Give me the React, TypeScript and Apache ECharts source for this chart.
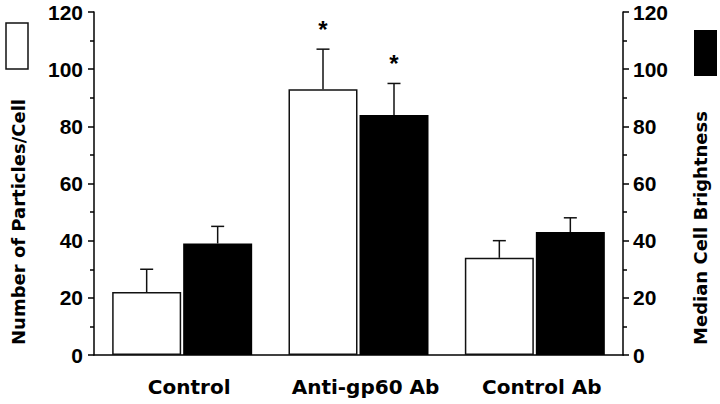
import React, { useEffect, useRef } from "react";
import * as echarts from "echarts";

const categories = ["Control", "Anti-gp60 Ab", "Control Ab"];
const particles = [22, 93, 34];
const particlesErrTop = [30, 107, 40];
const particlesStar = [false, true, false];
const brightness = [39, 84, 43];
const brightnessErrTop = [45, 95, 48];
const brightnessStar = [false, true, false];
const yMin = 0;
const yMax = 120;
const yInterval = 20;

const LABEL_FONT = "'Liberation Sans', Arial, sans-serif";
const WIDE_FONT = "'DejaVu Sans', sans-serif";

const BAR_W = 69;
const BAR_GAP_PX = 2;
const OFFSET = BAR_W / 2 + BAR_GAP_PX / 2;

function makeErrorRender(side: number) {
  return (params: any, api: any) => {
    const i = api.value(0);
    const base = api.coord([i, api.value(1)]);
    const top = api.coord([i, api.value(2)]);
    const star = api.value(3);
    const x = base[0] + side * OFFSET;
    const children: any[] = [
      {
        type: "line",
        shape: { x1: x, y1: base[1], x2: x, y2: top[1] },
        style: { stroke: "#111", lineWidth: 1.5 },
      },
      {
        type: "line",
        shape: { x1: x - 6.5, y1: top[1], x2: x + 6.5, y2: top[1] },
        style: { stroke: "#111", lineWidth: 1.5 },
      },
    ];
    if (star) {
      children.push({
        type: "text",
        x: x,
        y: top[1] - 20,
        style: {
          text: "*",
          font: "bold 24px " + LABEL_FONT,
          fill: "#000",
          align: "center",
          verticalAlign: "middle",
        },
      });
    }
    return { type: "group", children };
  };
}

const yAxisCommon = (position: "left" | "right") => ({
  type: "value",
  position,
  min: yMin,
  max: yMax,
  interval: yInterval,
  axisLine: { show: true, lineStyle: { color: "#000", width: 1.5 } },
  axisTick: { show: true, inside: false, length: 6, lineStyle: { color: "#000", width: 1.5 } },
  minorTick: { show: true, splitNumber: 2, length: 4, lineStyle: { color: "#000", width: 1.5 } },
  splitLine: { show: false },
  axisLabel: {
    margin: position === "left" ? 11 : 10,
    color: "#000",
    fontFamily: LABEL_FONT,
    fontWeight: 900,
    fontSize: 21,
  },
});

export default function App() {
  const ref = useRef<HTMLDivElement>(null);
  useEffect(() => {
    if (!ref.current) return;
    const chart = echarts.init(ref.current, undefined, { renderer: "svg" });
    chart.setOption({
      animation: false,
      backgroundColor: "#fff",
      grid: { left: 94, right: 97, top: 12, bottom: 49, containLabel: false },
      xAxis: {
        type: "category",
        data: categories,
        axisLine: { show: true, lineStyle: { color: "#000", width: 1.5 } },
        axisTick: { show: false },
        axisLabel: {
          interval: 0,
          hideOverlap: false,
          margin: 22,
          color: "#000",
          fontFamily: WIDE_FONT,
          fontWeight: "bold",
          fontSize: 20,
          padding: [0, 0, 0, 14],
        },
      },
      yAxis: [yAxisCommon("left"), yAxisCommon("right")],
      series: [
        {
          type: "bar",
          yAxisIndex: 0,
          data: particles,
          barWidth: BAR_W,
          barGap: ((BAR_GAP_PX / BAR_W) * 100).toFixed(1) + "%",
          itemStyle: { color: "#fff", borderColor: "#111", borderWidth: 1.5 },
        },
        {
          type: "bar",
          yAxisIndex: 1,
          data: brightness,
          barWidth: BAR_W,
          barGap: ((BAR_GAP_PX / BAR_W) * 100).toFixed(1) + "%",
          itemStyle: { color: "#000" },
        },
        {
          type: "custom",
          yAxisIndex: 0,
          renderItem: makeErrorRender(-1),
          encode: { x: 0, y: [1, 2] },
          data: categories.map((_, i) => [i, particles[i], particlesErrTop[i], particlesStar[i] ? 1 : 0]),
          z: 5,
        },
        {
          type: "custom",
          yAxisIndex: 1,
          renderItem: makeErrorRender(1),
          encode: { x: 0, y: [1, 2] },
          data: categories.map((_, i) => [i, brightness[i], brightnessErrTop[i], brightnessStar[i] ? 1 : 0]),
          z: 5,
        },
      ],
      graphic: [
        {
          type: "rect",
          shape: { x: 6, y: 23, width: 22, height: 46 },
          style: { fill: "#fff", stroke: "#111", lineWidth: 1.5 },
        },
        {
          type: "rect",
          shape: { x: 694, y: 30, width: 23, height: 46 },
          style: { fill: "#000" },
        },
        {
          type: "text",
          x: 18,
          y: 222,
          rotation: Math.PI / 2,
          style: {
            text: "Number of Particles/Cell",
            font: "bold 18px " + WIDE_FONT,
            fill: "#000",
            align: "center",
            verticalAlign: "middle",
          },
        },
        {
          type: "text",
          x: 700,
          y: 228,
          rotation: Math.PI / 2,
          style: {
            text: "Median Cell Brightness",
            font: "bold 18px " + WIDE_FONT,
            fill: "#000",
            align: "center",
            verticalAlign: "middle",
          },
        },
      ],
    });
    return () => chart.dispose();
  }, []);
  return (
    <div
      ref={ref}
      style={{ position: "fixed", left: 0, top: 0, width: 720, height: 404 }}
    />
  );
}
